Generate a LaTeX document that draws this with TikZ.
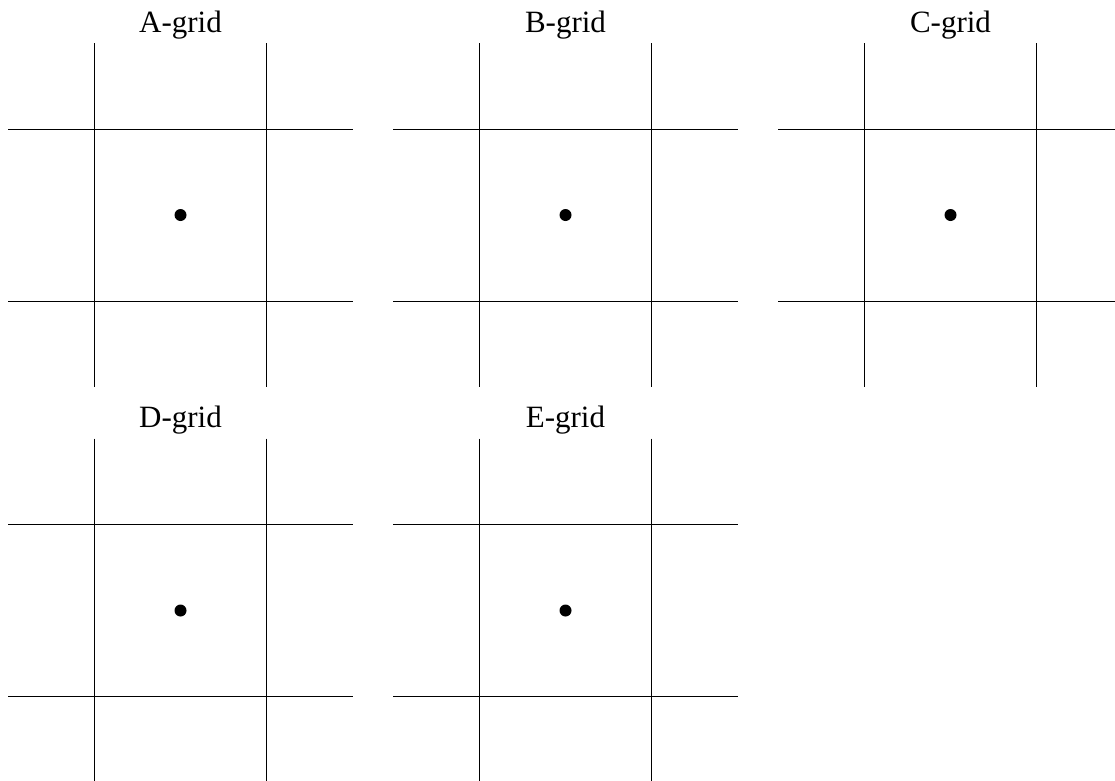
\documentclass[tikz,border=0pt]{standalone}
\usepackage{fontspec}
\setmainfont{Liberation Serif}
\begin{document}
\begin{tikzpicture}[x=1pt,y=-1pt,
  gridline/.style={line width=1pt,black},
  centre/.style={circle,fill=black,inner sep=0pt,minimum size=12pt},
  title/.style={anchor=base,inner sep=0pt,font=\fontsize{31}{36}\selectfont}]
\useasboundingbox (0,0) rectangle (1115,780);
\foreach \name/\lab/\cx/\cy in {a/A/180.5/215,b/B/565.5/215,c/C/950.5/215,d/D/180.5/610.5,e/E/565.5/610.5}{
  \draw[gridline] (\cx-172.5,\cy-86) -- (\cx+172.5,\cy-86);
  \draw[gridline] (\cx-172.5,\cy+86) -- (\cx+172.5,\cy+86);
  \draw[gridline] (\cx-86,\cy-172) -- (\cx-86,\cy+172);
  \draw[gridline] (\cx+86,\cy-172) -- (\cx+86,\cy+172);
  \node[centre] (dot\name) at (\cx,\cy) {};
  \node[title] (title\name) at (\cx,\cy-183) {\lab-grid};
}
\end{tikzpicture}
\end{document}
